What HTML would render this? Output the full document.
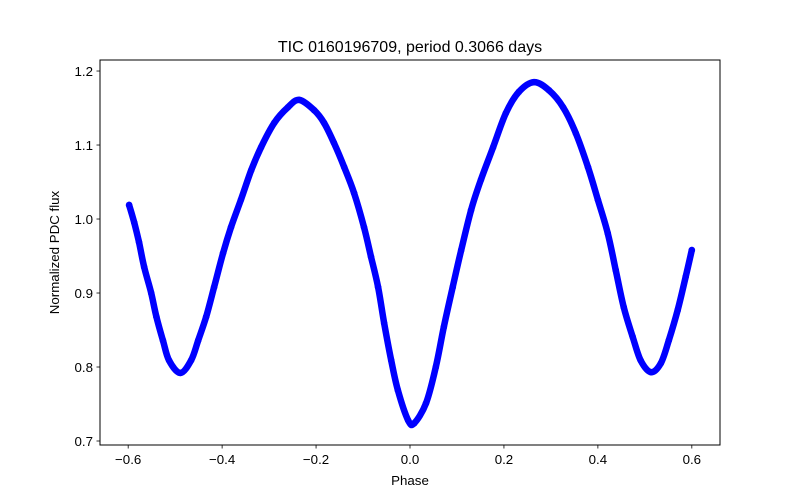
<!DOCTYPE html>
<html><head><meta charset="utf-8"><style>
html,body{margin:0;padding:0;background:#fff}
svg{display:block;font-family:"Liberation Sans","DejaVu Sans",sans-serif}
</style></head><body>
<svg id="chart" width="800" height="500" viewBox="0 0 800 500">
<rect width="800" height="500" fill="#fff"/>
<text x="410" y="52" text-anchor="middle" font-size="16">TIC 0160196709, period 0.3066 days</text>
<g id="marks"></g>
<rect x="100" y="60" width="620" height="385" fill="none" stroke="#000" stroke-width="1"/>
<g id="xaxis"></g>
<g id="yaxis"></g>
<text x="410" y="485" text-anchor="middle" font-size="13.3">Phase</text>
<text transform="translate(59,252.5) rotate(-90)" text-anchor="middle" font-size="13.3">Normalized PDC flux</text>
</svg>
<script>
const phase = [-0.598,-0.587,-0.577,-0.566,-0.551,-0.540,-0.526,-0.513,-0.489,-0.466,-0.451,-0.434,-0.417,-0.398,-0.381,-0.360,-0.338,-0.317,-0.289,-0.260,-0.236,-0.204,-0.183,-0.162,-0.140,-0.119,-0.098,-0.083,-0.068,-0.055,-0.040,-0.026,-0.004,0.009,0.034,0.055,0.072,0.091,0.109,0.130,0.151,0.177,0.204,0.232,0.264,0.296,0.326,0.353,0.379,0.400,0.421,0.438,0.455,0.474,0.491,0.513,0.534,0.551,0.570,0.587,0.600];
const flux = [1.019,0.995,0.969,0.935,0.900,0.868,0.836,0.809,0.792,0.809,0.836,0.868,0.908,0.954,0.989,1.026,1.066,1.097,1.130,1.151,1.161,1.147,1.130,1.103,1.070,1.035,0.989,0.949,0.908,0.859,0.809,0.769,0.728,0.724,0.751,0.800,0.854,0.908,0.958,1.012,1.053,1.097,1.143,1.172,1.185,1.174,1.151,1.116,1.070,1.026,0.981,0.931,0.881,0.841,0.809,0.793,0.805,0.836,0.877,0.922,0.958];
const xTicks = [-0.6,-0.4,-0.2,0.0,0.2,0.4,0.6];
const xTickLabels = ["\u22120.6","\u22120.4","\u22120.2","0.0","0.2","0.4","0.6"];
const yTicks = [0.7,0.8,0.9,1.0,1.1,1.2];
const yTickLabels = ["0.7","0.8","0.9","1.0","1.1","1.2"];

const NS="http://www.w3.org/2000/svg";
const X0=100,X1=720,Y0=445,Y1=60, xmin=-0.66,xmax=0.66, ymin=0.6946,ymax=1.2149;
function sx(v){return X0+(v-xmin)/(xmax-xmin)*(X1-X0);}
function sy(v){return Y0-(v-ymin)/(ymax-ymin)*(Y0-Y1);}
function mk(tag,attrs,parent){const e=document.createElementNS(NS,tag);for(const k in attrs)e.setAttribute(k,attrs[k]);parent.appendChild(e);return e;}

const marks=document.getElementById('marks');
const P=phase.map((p,i)=>[sx(p),sy(flux[i])]);
let d='M'+P[0][0].toFixed(1)+','+P[0][1].toFixed(1);
for(let i=0;i<P.length-1;i++){
  const p0=P[Math.max(0,i-1)],p1=P[i],p2=P[i+1],p3=P[Math.min(P.length-1,i+2)];
  const c1=[p1[0]+(p2[0]-p0[0])/6,p1[1]+(p2[1]-p0[1])/6];
  const c2=[p2[0]-(p3[0]-p1[0])/6,p2[1]-(p3[1]-p1[1])/6];
  d+=' C'+c1[0].toFixed(1)+','+c1[1].toFixed(1)+' '+c2[0].toFixed(1)+','+c2[1].toFixed(1)+' '+p2[0].toFixed(1)+','+p2[1].toFixed(1);
}
const pl=mk('path',{d:d,fill:'none',stroke:'#0000ff','stroke-width':6.5,'stroke-linejoin':'round','stroke-linecap':'round'},marks);


phase.forEach((p,i)=>{
  const c=mk('circle',{cx:sx(p),cy:sy(flux[i]),r:3.3,fill:'#0000ff'},marks);
  
  
});

const xa=document.getElementById('xaxis');
xTicks.forEach((t,i)=>{
  const x=sx(t);
  const l=mk('line',{x1:x,x2:x,y1:445,y2:448.5,stroke:'#000','stroke-width':0.8},xa);
  
  
  const tx=mk('text',{x:x,y:464,'text-anchor':'middle','font-size':13.3},xa);
  tx.textContent=xTickLabels[i];
  
  
});
const ya=document.getElementById('yaxis');
yTicks.forEach((t,i)=>{
  const y=sy(t);
  const l=mk('line',{x1:96.5,x2:100,y1:y,y2:y,stroke:'#000','stroke-width':0.8},ya);
  
  
  const tx=mk('text',{x:93,y:y+4.8,'text-anchor':'end','font-size':13.3},ya);
  tx.textContent=yTickLabels[i];
  
  
});
</script>
</body></html>
